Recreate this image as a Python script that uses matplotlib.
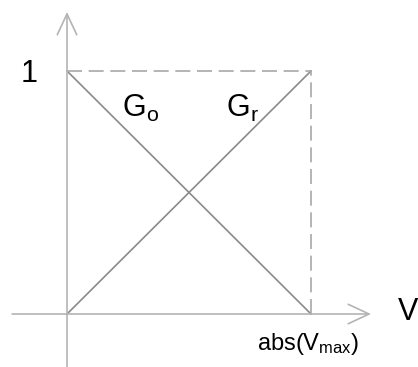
import matplotlib
matplotlib.use("Agg")
import matplotlib.pyplot as plt

plt.rcParams['font.family'] = ['Liberation Sans', 'DejaVu Sans']
plt.rcParams['mathtext.fontset'] = 'custom'
plt.rcParams['mathtext.rm'] = 'Liberation Sans'
plt.rcParams['mathtext.it'] = 'Liberation Sans'

# normalised voltage and the two gains
v = [0, 1]
g_o = [1, 0]
g_r = [0, 1]
# dashed box edges
top_x = [0, 1]
top_y = [1, 1]
side_x = [1, 1]
side_y = [0, 1]

fig = plt.figure(figsize=(4.18, 3.67), dpi=100)
ax = fig.add_axes([0, 0, 1, 1])
ax.set_xlim(-0.2746, 1.4385)
ax.set_ylim(-0.218, 1.292)
ax.axis('off')

axis_col = '#b4b4b4'
ax.annotate('', xy=(1.246, 0), xytext=(-0.225, 0),
            arrowprops=dict(arrowstyle='->,head_length=1.5,head_width=0.7',
                            mutation_scale=10, color=axis_col, lw=1.2,
                            shrinkA=0, shrinkB=0))
ax.annotate('', xy=(0, 1.243), xytext=(0, -0.22),
            arrowprops=dict(arrowstyle='->,head_length=1.5,head_width=0.7',
                            mutation_scale=10, color=axis_col, lw=1.2,
                            shrinkA=0, shrinkB=0))

ax.plot(v, g_o, color='#8a8a8a', lw=1.2)
ax.plot(v, g_r, color='#8a8a8a', lw=1.2)
ax.plot(top_x, top_y, color='#a8a8a8', lw=1.2, dashes=(9, 4))
ax.plot(side_x, side_y, color='#a8a8a8', lw=1.2, dashes=(9, 4))

ax.text(-0.156, 0.955, '1', fontsize=22, ha='center', va='baseline')
ax.text(1.397, -0.025, 'V', fontsize=22, ha='center', va='baseline')
ax.text(0.99, -0.148, r'abs(V$_{\mathrm{max}}$)', fontsize=17, ha='center', va='baseline')
ax.text(0.303, 0.81, r'G$_{\mathrm{o}}$', fontsize=22, ha='center', va='baseline')
ax.text(0.717, 0.81, r'G$_{\mathrm{r}}$', fontsize=22, ha='center', va='baseline')

fig.savefig('out.png', dpi=100)
